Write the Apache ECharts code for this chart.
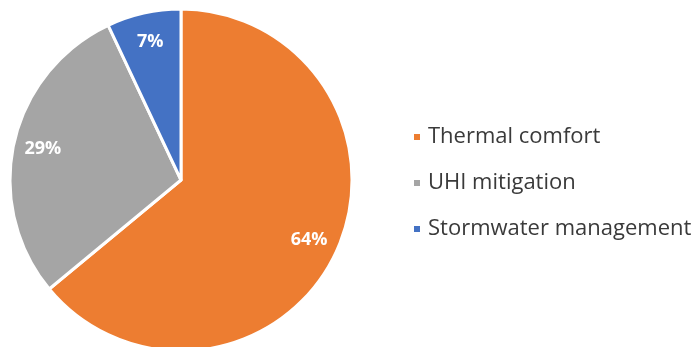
<!DOCTYPE html>
<html><head><meta charset="utf-8">
<script src="https://cdn.jsdelivr.net/npm/echarts@6/dist/echarts.min.js"></script>
<style>html,body{margin:0;padding:0;background:#fff}#c{width:696px;height:347px}</style>
</head><body><div id="c"></div>
<script>
const categories = ['Thermal comfort', 'UHI mitigation', 'Stormwater management'];
const values = [64, 29, 7];
const colors = ['#ED7D31', '#A5A5A5', '#4472C4'];

const chart = echarts.init(document.getElementById('c'), null, {renderer: 'canvas'});
const mainData = categories.map((n, i) => ({name: n, value: values[i], itemStyle: {color: colors[i]}}));
const labelData = categories.map((n, i) => ({name: n, value: values[i]}));
chart.setOption({
  animation: false,
  legend: {
    orient: 'vertical', left: 407, top: 121,
    icon: 'rect', itemWidth: 8, itemHeight: 8, itemGap: 24,
    textStyle: {fontFamily: 'Open Sans', fontSize: 22, color: '#3a3a3a', padding: [0,0,0,2]},
    data: categories
  },
  series: [{
    type: 'pie', center: [181, 180], radius: [0, 171], startAngle: 90, clockwise: true,
    data: mainData, label: {show: false}, labelLine: {show: false},
    itemStyle: {borderColor: '#fff', borderWidth: 3}, silent: true
  }, {
    type: 'pie', center: [181, 180], radius: [106, 171], startAngle: 90, clockwise: true,
    data: labelData, silent: true, legendHoverLink: false,
    itemStyle: {color: 'rgba(0,0,0,0)'},
    label: {show: true, position: 'inside', formatter: '{c}%', color: '#fff', fontFamily: 'Open Sans', fontWeight: 'bold', fontSize: 18},
    labelLine: {show: false}
  }]
});
</script></body></html>
